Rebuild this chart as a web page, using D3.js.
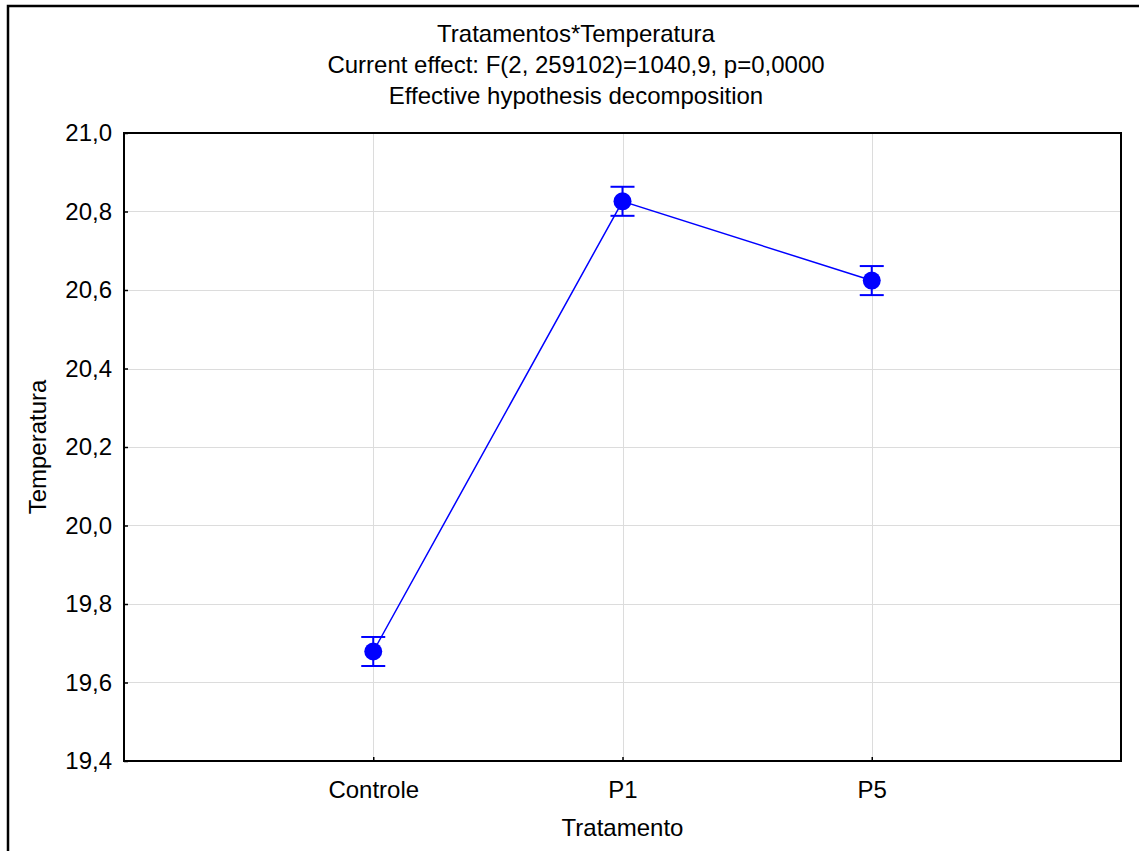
<!DOCTYPE html>
<html>
<head>
<meta charset="utf-8">
<script src="https://cdn.jsdelivr.net/npm/d3@7"></script>
<style>
  html, body { margin: 0; padding: 0; background: #fff; }
  svg { display: block; font-family: Arial, "Liberation Sans", sans-serif; }
</style>
</head>
<body>
<svg id="chart" width="1139" height="851"></svg>
<script>
const titleLines = ["Tratamentos*Temperatura", "Current effect: F(2, 259102)=1040,9, p=0,0000", "Effective hypothesis decomposition"];
const categories = ["Controle", "P1", "P5"];
const means = [19.679, 20.826, 20.624];
const upper = [19.716, 20.863, 20.661];
const lower = [19.642, 20.789, 20.587];
const yTicks = [19.4, 19.6, 19.8, 20.0, 20.2, 20.4, 20.6, 20.8, 21.0];
const xLabel = "Tratamento";
const yLabel = "Temperatura";

const svg = d3.select("#chart");
const m = { left: 124, right: 1121, top: 133, bottom: 761 };
const fs = 24;

// outer frame
svg.append("rect").attr("x", 8).attr("y", 6).attr("width", 1140).attr("height", 860)
  .attr("fill", "none").attr("stroke", "#000").attr("stroke-width", 2.5);

const x = d3.scalePoint().domain(categories).range([m.left, m.right]).padding(1);
const y = d3.scaleLinear().domain([19.4, 21.0]).range([m.bottom, m.top]);

// grid
svg.append("g").selectAll("line").data(yTicks.slice(1, -1)).join("line")
  .attr("x1", m.left).attr("x2", m.right)
  .attr("y1", d => Math.round(y(d)) + 0.5).attr("y2", d => Math.round(y(d)) + 0.5)
  .attr("stroke", "#dcdcdc").attr("stroke-width", 1);
svg.append("g").selectAll("line").data(categories).join("line")
  .attr("x1", d => Math.round(x(d)) + 0.5).attr("x2", d => Math.round(x(d)) + 0.5)
  .attr("y1", m.top).attr("y2", m.bottom)
  .attr("stroke", "#dcdcdc").attr("stroke-width", 1);

// axes (ticks inward)
const yAxis = d3.axisLeft(y).tickValues(yTicks).tickSize(-4).tickPadding(12)
  .tickFormat(d => d3.format(".1f")(d).replace(".", ","));
const gy = svg.append("g").attr("transform", `translate(${m.left},0)`).call(yAxis);
gy.select(".domain").remove();
gy.selectAll("line").attr("stroke", "#000").attr("stroke-width", 1.5);
gy.selectAll("text").attr("font-size", fs).attr("fill", "#000").attr("font-family", "Arial, 'Liberation Sans', sans-serif");

const xAxis = d3.axisBottom(x).tickSize(-4).tickPadding(20);
const gx = svg.append("g").attr("transform", `translate(0,${m.bottom})`).call(xAxis);
gx.select(".domain").remove();
gx.selectAll("line").attr("stroke", "#000").attr("stroke-width", 1.5);
gx.selectAll("text").attr("font-size", fs).attr("fill", "#000").attr("font-family", "Arial, 'Liberation Sans', sans-serif");

// plot box
svg.append("rect").attr("x", m.left).attr("y", m.top)
  .attr("width", m.right - m.left).attr("height", m.bottom - m.top)
  .attr("fill", "none").attr("stroke", "#000").attr("stroke-width", 2);

// line
const data = categories.map((c, i) => ({ c, v: means[i], hi: upper[i], lo: lower[i] }));
svg.append("path").datum(data)
  .attr("d", d3.line().x(d => x(d.c)).y(d => y(d.v)))
  .attr("fill", "none").attr("stroke", "#0000ff").attr("stroke-width", 1.5);

// error bars
const eb = svg.append("g").attr("stroke", "#0000ff").attr("stroke-width", 2);
eb.selectAll(".v").data(data).join("line")
  .attr("x1", d => x(d.c)).attr("x2", d => x(d.c))
  .attr("y1", d => y(d.hi)).attr("y2", d => y(d.lo));
eb.selectAll(".t").data(data).join("line")
  .attr("x1", d => x(d.c) - 12).attr("x2", d => x(d.c) + 12)
  .attr("y1", d => y(d.hi)).attr("y2", d => y(d.hi));
eb.selectAll(".b").data(data).join("line")
  .attr("x1", d => x(d.c) - 12).attr("x2", d => x(d.c) + 12)
  .attr("y1", d => y(d.lo)).attr("y2", d => y(d.lo));

// markers
svg.append("g").selectAll("circle").data(data).join("circle")
  .attr("cx", d => x(d.c)).attr("cy", d => y(d.v)).attr("r", 9)
  .attr("fill", "#0000ff");

// titles
svg.append("g").selectAll("text").data(titleLines).join("text")
  .attr("x", 576).attr("y", (d, i) => 42 + i * 31)
  .attr("text-anchor", "middle").attr("font-size", fs).text(d => d);

svg.append("text").attr("x", (m.left + m.right) / 2).attr("y", 836)
  .attr("text-anchor", "middle").attr("font-size", fs).text(xLabel);

svg.append("text").attr("transform", `translate(46,${(m.top + m.bottom) / 2}) rotate(-90)`)
  .attr("text-anchor", "middle").attr("font-size", fs).text(yLabel);
</script>
</body>
</html>
